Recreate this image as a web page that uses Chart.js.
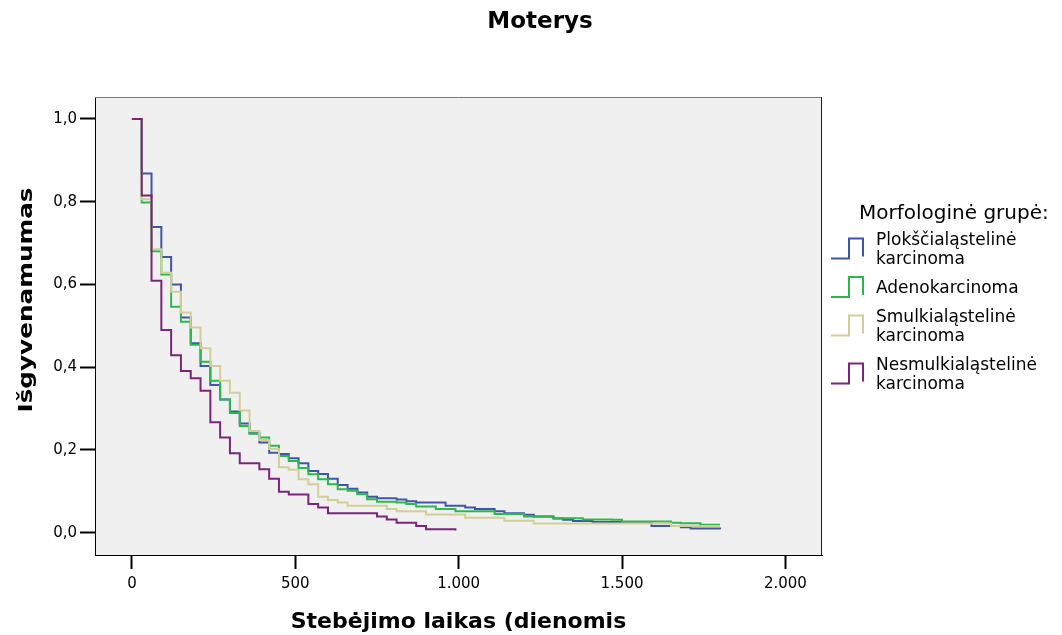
<!DOCTYPE html>
<html>
<head>
<meta charset="utf-8">
<script src="https://cdn.jsdelivr.net/npm/chart.js@4"></script>
<style>
  body { margin: 0; background: #fff; }
  #wrap { width: 1062px; height: 635px; position: relative; }
</style>
</head>
<body>
<div id="wrap"><canvas id="kmChart"></canvas></div>
<script>
// laikas dienomis (laiptai kas 30 d.)
const days = [0, 30, 60, 90, 120, 150, 180, 210, 240, 270, 300, 330, 360, 390, 420, 450, 480, 510, 540, 570,
  600, 630, 660, 690, 720, 750, 780, 810, 840, 870, 900, 930, 960, 990, 1020, 1050, 1080, 1110, 1140, 1170,
  1200, 1230, 1260, 1290, 1320, 1350, 1380, 1410, 1440, 1470, 1500, 1530, 1560, 1590, 1620, 1650, 1680, 1710,
  1740, 1770, 1800];

const plokscialasteline = [1.0, 0.868, 0.739, 0.666, 0.600, 0.520, 0.458, 0.403, 0.357, 0.322, 0.293, 0.264,
  0.240, 0.218, 0.193, 0.190, 0.180, 0.168, 0.149, 0.142, 0.130, 0.115, 0.106, 0.097, 0.087, 0.083, 0.083,
  0.080, 0.076, 0.073, 0.073, 0.073, 0.065, 0.065, 0.061, 0.057, 0.057, 0.052, 0.047, 0.047, 0.043, 0.039,
  0.039, 0.034, 0.031, 0.028, 0.028, 0.026, 0.026, 0.026, 0.026, 0.026, 0.026, 0.016, 0.016, 0.016, 0.013,
  0.010, 0.010, 0.010, 0.008];

const adenokarcinoma = [1.0, 0.798, 0.680, 0.624, 0.546, 0.510, 0.454, 0.413, 0.367, 0.322, 0.289, 0.258,
  0.239, 0.230, 0.210, 0.185, 0.173, 0.156, 0.141, 0.129, 0.117, 0.105, 0.101, 0.093, 0.081, 0.075, 0.075,
  0.073, 0.069, 0.063, 0.063, 0.057, 0.057, 0.052, 0.052, 0.052, 0.052, 0.045, 0.045, 0.045, 0.039, 0.039,
  0.039, 0.035, 0.035, 0.035, 0.032, 0.032, 0.032, 0.031, 0.027, 0.027, 0.027, 0.027, 0.027, 0.024, 0.023,
  0.023, 0.019, 0.019, 0.019];

const smulkialasteline = [1.0, 0.806, 0.685, 0.628, 0.582, 0.532, 0.496, 0.446, 0.403, 0.367, 0.338, 0.295,
  0.246, 0.224, 0.202, 0.158, 0.152, 0.129, 0.117, 0.087, 0.079, 0.073, 0.065, 0.065, 0.065, 0.065, 0.057,
  0.052, 0.052, 0.052, 0.044, 0.044, 0.044, 0.044, 0.036, 0.036, 0.036, 0.036, 0.029, 0.029, 0.029, 0.022,
  0.022, 0.022, 0.022, 0.022, 0.022, 0.022, 0.022, 0.022, 0.022, 0.022, 0.022, 0.022, 0.022, 0.016, 0.016,
  0.016, 0.016, 0.016, 0.016];

const nesmulkialasteline = [1.0, 0.815, 0.609, 0.490, 0.429, 0.391, 0.373, 0.343, 0.267, 0.230, 0.192, 0.168,
  0.168, 0.153, 0.130, 0.099, 0.092, 0.092, 0.069, 0.061, 0.047, 0.047, 0.047, 0.047, 0.047, 0.039, 0.032,
  0.024, 0.024, 0.016, 0.008, 0.008, 0.008, 0.005];

const xTicks = [0, 500, 1000, 1500, 2000];
const yTicks = [0, 0.2, 0.4, 0.6, 0.8, 1.0];

const seriesLabels = [
  ['Plokščialąstelinė', 'karcinoma'],
  ['Adenokarcinoma'],
  ['Smulkialąstelinė', 'karcinoma'],
  ['Nesmulkialąstelinė', 'karcinoma']
];
const seriesColors = ['#3d56ab', '#2db84c', '#d3ce97', '#7b2479'];
const seriesValues = [plokscialasteline, adenokarcinoma, smulkialasteline, nesmulkialasteline];
const drawOrder = [3, 2, 1, 0];

const FONT = 'DejaVu Sans';

// pilkas fonas ir remelis aplink grafiko sriti
const plotFrame = {
  id: 'plotFrame',
  beforeDraw(chart) {
    const a = chart.chartArea;
    const ctx = chart.ctx;
    ctx.save();
    ctx.fillStyle = '#f0f0f0';
    ctx.fillRect(a.left, a.top, a.right - a.left, a.bottom - a.top);
    ctx.restore();
  },
  afterDraw(chart) {
    const a = chart.chartArea;
    const ctx = chart.ctx;
    ctx.save();
    ctx.strokeStyle = '#7a7a7a';
    ctx.lineWidth = 1;
    ctx.beginPath();
    ctx.moveTo(a.left, a.top + 0.5);
    ctx.lineTo(a.right - 0.5, a.top + 0.5);
    ctx.stroke();
    ctx.strokeStyle = '#222';
    ctx.beginPath();
    ctx.moveTo(a.right - 0.5, a.top);
    ctx.lineTo(a.right - 0.5, a.bottom);
    ctx.stroke();
    ctx.restore();
  }
};

// pavadinimas ir y asies pavadinimas (istemptas kaip originale)
const titles = {
  id: 'titles',
  afterDraw(chart) {
    const ctx = chart.ctx;
    ctx.save();
    ctx.fillStyle = '#000';
    ctx.textAlign = 'center';
    ctx.textBaseline = 'middle';
    ctx.font = 'bold 23px "' + FONT + '"';
    ctx.fillText('Moterys', 540, 22);

    ctx.translate(27, 300);
    ctx.rotate(-Math.PI / 2);
    ctx.font = 'bold 20px "' + FONT + '"';
    const txt = 'Išgyvenamumas';
    const w = ctx.measureText(txt).width;
    ctx.scale(225 / w, 1);
    ctx.fillText(txt, 0, 0);
    ctx.restore();
  }
};

// legenda su laiptu ikonomis
const stepLegend = {
  id: 'stepLegend',
  afterDraw(chart) {
    const ctx = chart.ctx;
    ctx.save();
    ctx.fillStyle = '#000';
    ctx.textAlign = 'left';
    ctx.textBaseline = 'alphabetic';
    ctx.font = '20px "' + FONT + '"';
    ctx.fillText('Morfologinė grupė:', 859, 219);

    ctx.font = '17px "' + FONT + '"';
    let base = 245;
    chart.data.datasets.forEach((ds, i) => {
      const lines = seriesLabels[i];
      const last = base + (lines.length - 1) * 19;
      lines.forEach((ln, j) => {
        ctx.fillStyle = '#000';
        ctx.fillText(ln, 876, base + j * 19);
      });
      const yc = (base - 12 + last) / 2;
      ctx.strokeStyle = ds.borderColor;
      ctx.lineWidth = 2;
      ctx.beginPath();
      ctx.moveTo(831, yc + 10);
      ctx.lineTo(849, yc + 10);
      ctx.lineTo(849, yc - 10);
      ctx.lineTo(863, yc - 10);
      ctx.lineTo(863, yc + 8);
      ctx.stroke();
      base = last + 29;
    });
    ctx.restore();
  }
};

const datasets = seriesValues.map((vals, i) => ({
  label: seriesLabels[i].join(' '),
  data: vals.map((v, k) => ({ x: days[k], y: v })),
  borderColor: seriesColors[i],
  borderWidth: 2,
  pointRadius: 0,
  stepped: true,
  fill: false,
  order: drawOrder[i]
}));

new Chart(document.getElementById('kmChart'), {
  type: 'line',
  data: { datasets: datasets },
  options: {
    responsive: true,
    maintainAspectRatio: false,
    animation: false,
    layout: { padding: { left: 0, right: 240, top: 97, bottom: 0 } },
    plugins: {
      legend: { display: false },
      tooltip: { enabled: false },
      title: { display: false }
    },
    scales: {
      x: {
        type: 'linear',
        min: -113,
        max: 2112,
        afterBuildTicks: (s) => { s.ticks = xTicks.map(v => ({ value: v })); },
        afterFit: (s) => { s.height = 80; },
        ticks: {
          color: '#000',
          font: { family: FONT, size: 15 },
          padding: 6,
          maxRotation: 0,
          autoSkip: false,
          callback: (v) => String(v).replace(/\B(?=(\d{3})+(?!\d))/g, '.')
        },
        grid: { drawOnChartArea: false, drawTicks: true, tickLength: 14, tickColor: '#000', tickWidth: 2 },
        border: { display: true, color: '#000', width: 1 },
        title: {
          display: true,
          text: 'Stebėjimo laikas (dienomis',
          color: '#000',
          font: { family: FONT, size: 22, weight: 'bold' },
          padding: { top: 0, bottom: 0 }
        }
      },
      y: {
        min: -0.054,
        max: 1.053,
        afterBuildTicks: (s) => { s.ticks = yTicks.map(v => ({ value: v })); },
        afterFit: (s) => { s.width = 95; },
        ticks: {
          color: '#000',
          font: { family: FONT, size: 15 },
          padding: 3,
          callback: (v) => v.toFixed(1).replace('.', ',')
        },
        grid: { drawOnChartArea: false, drawTicks: true, tickLength: 15, tickColor: '#000', tickWidth: 2 },
        border: { display: true, color: '#000', width: 1 }
      }
    }
  },
  plugins: [plotFrame, titles, stepLegend]
});
</script>
</body>
</html>
